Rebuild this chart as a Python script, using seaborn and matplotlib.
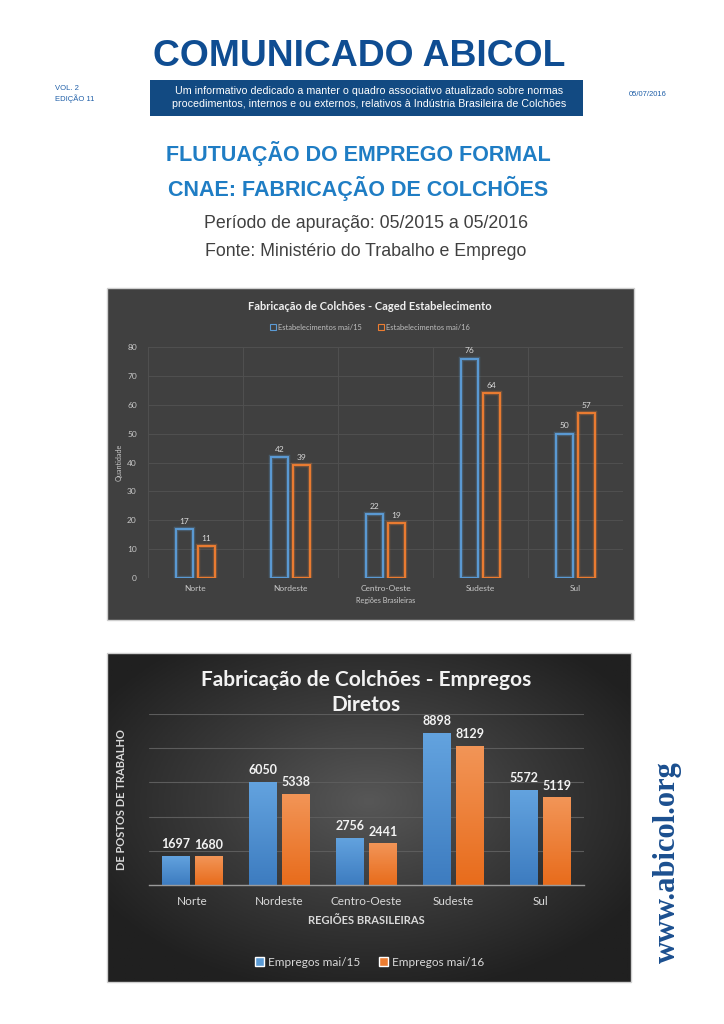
import numpy as np
import pandas as pd
import matplotlib
matplotlib.use("Agg")
import matplotlib.pyplot as plt
import matplotlib.patheffects as pe
from matplotlib.patches import Rectangle, Patch
from matplotlib.colors import LinearSegmentedColormap
import seaborn as sns

# Data read from the bulletin
regioes = ["Norte", "Nordeste", "Centro-Oeste", "Sudeste", "Sul"]
estab_mai15 = [17, 42, 22, 76, 50]
estab_mai16 = [11, 39, 19, 64, 57]
empregos_mai15 = [1697, 6050, 2756, 8898, 5572]
empregos_mai16 = [1680, 5338, 2441, 8129, 5119]

estab_series = ["Estabelecimentos mai/15", "Estabelecimentos mai/16"]
empregos_series = ["Empregos mai/15", "Empregos mai/16"]

df_estab = pd.DataFrame({
    "regiao": regioes * 2,
    "valor": estab_mai15 + estab_mai16,
    "serie": [estab_series[0]] * 5 + [estab_series[1]] * 5,
})
df_emp = pd.DataFrame({
    "regiao": regioes * 2,
    "valor": empregos_mai15 + empregos_mai16,
    "serie": [empregos_series[0]] * 5 + [empregos_series[1]] * 5,
})

BLUE = "#5b9bd5"
ORANGE = "#ed7d31"
NAVY = "#124a82"
W, H = 724, 1024

sns.set_style("white")
plt.rcParams["font.family"] = ["Liberation Sans", "DejaVu Sans"]

fig = plt.figure(figsize=(7.24, 10.24), dpi=100)
fig.patch.set_facecolor("white")


def px_axes(x0, y0, x1, y1, **kw):
    return fig.add_axes([x0 / W, 1 - y1 / H, (x1 - x0) / W, (y1 - y0) / H], **kw)


def ftext(x, y, s, **kw):
    return fig.text(x / W, 1 - y / H, s, **kw)


# ---- header ----
ftext(359, 57, "COMUNICADO ABICOL", ha="center", va="center", fontsize=26.8,
      fontweight="bold", color="#0f4d92")
fig.patches.append(Rectangle((150 / W, 1 - 116 / H), 433 / W, 36 / H,
                             transform=fig.transFigure, facecolor=NAVY, edgecolor="none",
                             zorder=-2))
ftext(369, 91, "Um informativo dedicado a manter o quadro associativo atualizado sobre normas",
      ha="center", va="center", fontsize=7.7, color="white")
ftext(369, 104, "procedimentos, internos e ou externos, relativos à Indústria Brasileira de Colchões",
      ha="center", va="center", fontsize=7.7, color="white")
ftext(55, 89, "VOL. 2", ha="left", va="center", fontsize=5.5, color="#1f5fa8")
ftext(55, 99, "EDIÇÃO 11", ha="left", va="center", fontsize=5.5, color="#1f5fa8")
ftext(667, 95, "05/07/2016", ha="right", va="center", fontsize=5.5, color="#1f5fa8")

ftext(358, 153, "FLUTUAÇÃO DO EMPREGO FORMAL", ha="center", va="center", fontsize=15.5,
      fontweight="bold", color="#1f7dc4")
ftext(358, 188, "CNAE: FABRICAÇÃO DE COLCHÕES", ha="center", va="center", fontsize=15.5,
      fontweight="bold", color="#1f7dc4")
ftext(366, 224, "Período de apuração: 05/2015 a 05/2016", ha="center", va="center",
      fontsize=12.8, color="#404040")
ftext(366, 252, "Fonte: Ministério do Trabalho e Emprego", ha="center", va="center",
      fontsize=12.8, color="#404040")

ftext(667, 862, "www.abicol.org", ha="center", va="center", rotation=90, fontsize=22,
      fontweight="bold", color="#1b4f8f", family=["Liberation Serif", "DejaVu Serif"])

# ---- chart 1: Caged Estabelecimento ----
fig.patches.append(Rectangle((107 / W, 1 - 620 / H), 527 / W, 332 / H,
                             transform=fig.transFigure, facecolor="#404040",
                             edgecolor="#cfcfcf", linewidth=1, zorder=-2))
ax1 = px_axes(148, 347, 623, 578)
ax1.set_facecolor("none")
sns.barplot(data=df_estab, x="regiao", y="valor", hue="serie", order=regioes,
            hue_order=estab_series, palette=[BLUE, ORANGE], fill=False,
            width=0.46, gap=0.25, linewidth=1.4, legend=False, ax=ax1)
for cont, col in zip(ax1.containers, [BLUE, ORANGE]):
    for bar in cont:
        bar.set_edgecolor(col)
        bar.set_path_effects([pe.Stroke(linewidth=3.2, foreground=col, alpha=0.3), pe.Normal()])
    ax1.bar_label(cont, padding=3, fontsize=6, color="#d9d9d9", family="Lato")
ax1.set_ylim(0, 80)
ax1.set_xlim(-0.5, 4.5)
ax1.set_yticks(range(0, 81, 10))
ax1.set_xticks(np.arange(-0.5, 5, 1), minor=True)
ax1.grid(axis="y", which="major", color="#505050", linewidth=0.7)
ax1.grid(axis="x", which="minor", color="#505050", linewidth=0.7)
ax1.grid(axis="x", which="major", visible=False)
ax1.set_axisbelow(True)
ax1.tick_params(axis="both", which="both", length=0, labelsize=6, labelcolor="#c8c8c8")
ax1.tick_params(axis="y", pad=8)
ax1.tick_params(axis="x", pad=5)
for lbl in ax1.get_xticklabels() + ax1.get_yticklabels():
    lbl.set_family("Lato")
sns.despine(ax=ax1, left=True, bottom=True)
ax1.set_xlabel("Regiões Brasileiras", fontsize=5.2, color="#c8c8c8", family="Lato", labelpad=4)
ax1.set_ylabel("Quantidade", fontsize=5.2, color="#c8c8c8", family="Lato", labelpad=3)
ftext(370, 306, "Fabricação de Colchões - Caged Estabelecimento", ha="center", va="center",
      fontsize=8, fontweight="bold", color="#f0f0f0", family="Lato")
h1 = [Patch(facecolor="none", edgecolor=BLUE, linewidth=0.8),
      Patch(facecolor="none", edgecolor=ORANGE, linewidth=0.8)]
fig.legend(h1, estab_series, loc="center", bbox_to_anchor=(370 / W, 1 - 327 / H), ncol=2,
           frameon=False, labelcolor="#bfbfbf", handlelength=0.7,
           handleheight=0.7, handletextpad=0.3, columnspacing=2.2,
           prop={"family": "Lato", "size": 5.4})

# ---- chart 2: Empregos Diretos ----
bg = px_axes(107, 653, 631, 982)
yy, xx = np.mgrid[0:1:200j, 0:1:300j]
r = np.sqrt(((xx - 0.5) / 0.6) ** 2 + ((yy - 0.45) / 0.6) ** 2)
bg_cmap = LinearSegmentedColormap.from_list("bg", ["#575757", "#3a3a3a", "#202020"])
bg.imshow(np.clip(r, 0, 1), cmap=bg_cmap, aspect="auto", extent=(0, 1, 0, 1), vmin=0, vmax=1)
bg.set_axis_off()
fig.patches.append(Rectangle((107 / W, 1 - 982 / H), 524 / W, 329 / H,
                             transform=fig.transFigure, facecolor="none",
                             edgecolor="#cfcfcf", linewidth=1, zorder=5))

ax2 = px_axes(149, 714, 584, 885)
ax2.set_facecolor("none")
sns.barplot(data=df_emp, x="regiao", y="valor", hue="serie", order=regioes,
            hue_order=empregos_series, palette=[BLUE, ORANGE], width=0.76, gap=0.18,
            linewidth=0, legend=False, ax=ax2)
grad_maps = [LinearSegmentedColormap.from_list("b", ["#3d7cc0", "#63a3df"]),
             LinearSegmentedColormap.from_list("o", ["#e86c1c", "#f29557"])]
grad = np.linspace(0, 1, 64).reshape(-1, 1)
for cont, cmap in zip(ax2.containers, grad_maps):
    for bar in cont:
        x0, y0 = bar.get_x(), bar.get_y()
        im = ax2.imshow(grad, cmap=cmap, aspect="auto", origin="lower",
                        extent=(x0, x0 + bar.get_width(), y0, y0 + bar.get_height()), zorder=2)
        im.set_clip_path(bar)
    ax2.bar_label(cont, padding=4, fontsize=9, fontweight="bold", color="#f2f2f2", family="Lato")
ax2.set_xlim(-0.5, 4.5)
ax2.set_ylim(0, 10000)
ax2.set_yticks(range(0, 10001, 2000))
ax2.set_yticklabels([])
ax2.grid(axis="y", color="#5c5c5c", linewidth=0.8)
ax2.grid(axis="x", visible=False)
ax2.set_axisbelow(True)
sns.despine(ax=ax2, left=True)
ax2.spines["bottom"].set_color("#9a9a9a")
ax2.spines["bottom"].set_linewidth(1)
ax2.tick_params(axis="both", length=0)
ax2.tick_params(axis="x", labelsize=8.5, labelcolor="#d9d9d9", pad=8)
for lbl in ax2.get_xticklabels():
    lbl.set_family("Lato")
ax2.set_xlabel("REGIÕES BRASILEIRAS", fontsize=8, fontweight="bold", color="#d9d9d9",
               family="Lato", labelpad=6)
ax2.set_ylabel("DE POSTOS DE TRABALHO", fontsize=8, fontweight="bold", color="#d9d9d9",
               family="Lato", labelpad=12)
ftext(366, 680, "Fabricação de Colchões - Empregos", ha="center", va="center", fontsize=15,
      fontweight="bold", color="#f2f2f2", family="Lato")
ftext(366, 705, "Diretos", ha="center", va="center", fontsize=15,
      fontweight="bold", color="#f2f2f2", family="Lato")
h2 = [Patch(facecolor=BLUE), Patch(facecolor=ORANGE)]
fig.legend(h2, empregos_series, loc="center", bbox_to_anchor=(370 / W, 1 - 962 / H), ncol=2,
           frameon=False, labelcolor="#d9d9d9", handlelength=0.7, handleheight=0.7,
           handletextpad=0.4, columnspacing=1.6, prop={"family": "Lato", "size": 8.5})

fig.savefig("out.png", dpi=100, facecolor="white")
